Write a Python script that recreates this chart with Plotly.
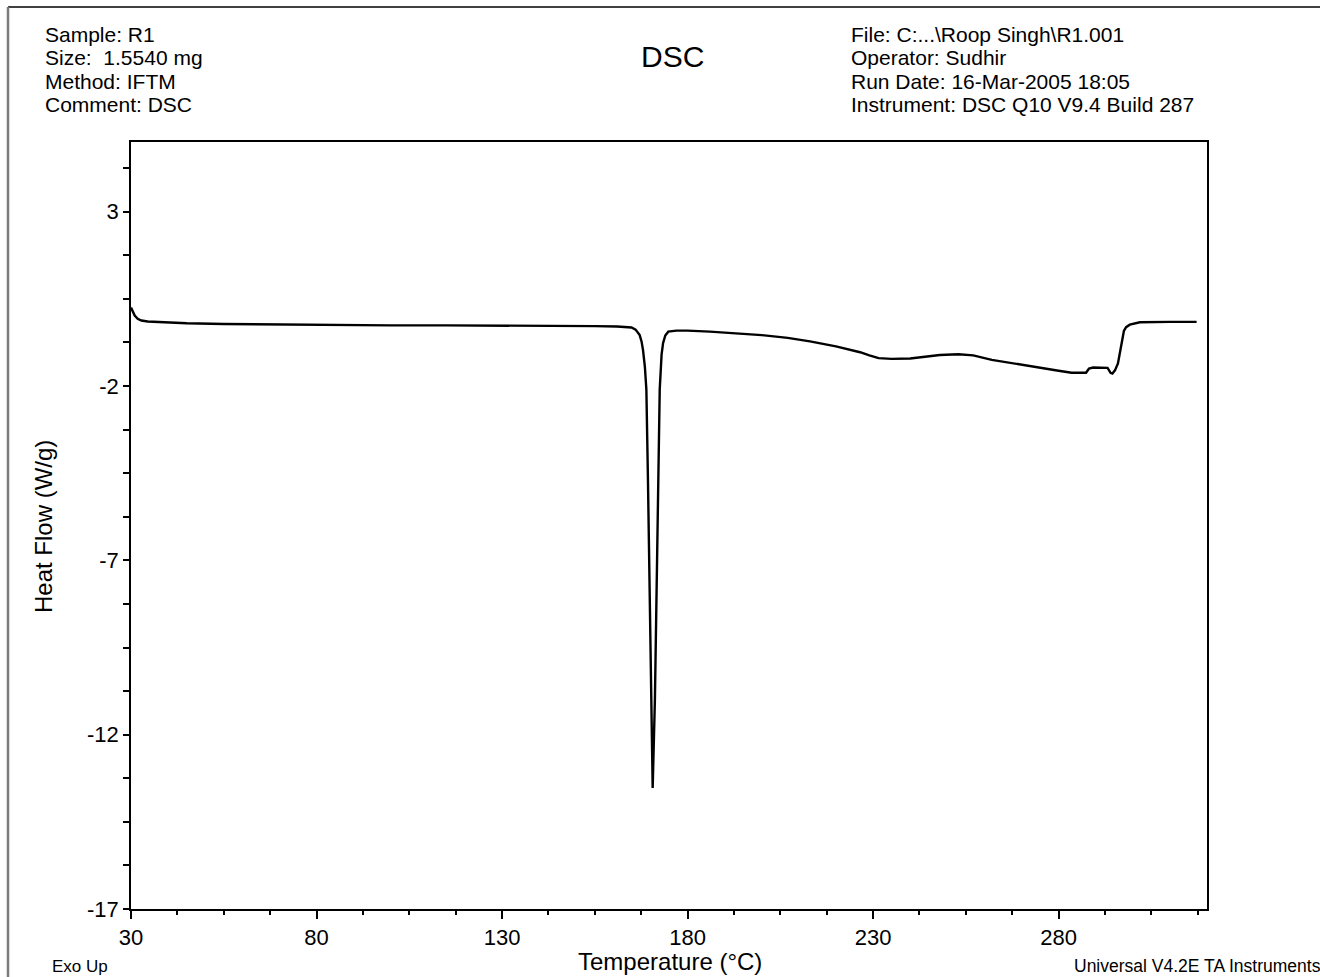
import plotly.graph_objects as go

# DSC scan of sample R1: temperature (°C) vs heat flow (W/g)
temperature = [
    30.0, 30.5, 31.0, 31.8, 32.8, 34.5, 38.0, 45.0, 55.0, 70.0, 85.0, 100.0,
    115.0, 130.0, 145.0, 155.0, 161.0, 164.9, 166.0, 167.1, 167.6, 168.0,
    168.5, 168.9, 169.3, 169.8, 170.1, 170.6, 171.2, 171.6, 172.0, 172.5,
    173.0, 173.4, 174.0, 174.8, 177.0, 180.0, 186.0, 193.0, 200.0, 207.0,
    213.0, 220.0, 226.5, 229.0, 231.5, 235.0, 240.0, 244.0, 248.0, 253.0,
    257.0, 262.0, 268.0, 275.0, 280.0, 283.5, 287.4, 288.2, 289.3, 293.2,
    294.0, 294.5, 295.2, 296.0, 296.5, 297.0, 297.6, 298.2, 299.2, 301.9,
    305.0, 310.0, 317.2,
]
heat_flow = [
    0.25, 0.12, 0.02, -0.07, -0.12, -0.15, -0.17, -0.20, -0.22, -0.24, -0.25, -0.26,
    -0.26, -0.26, -0.27, -0.28, -0.29, -0.32, -0.38, -0.54, -0.72, -0.97,
    -1.45, -2.10, -4.50, -8.10, -11.00, -13.53, -11.00, -8.10, -5.00, -2.10,
    -1.10, -0.77, -0.55, -0.44, -0.41, -0.41, -0.44, -0.48, -0.54, -0.62,
    -0.72, -0.86, -1.03, -1.12, -1.20, -1.22, -1.21, -1.16, -1.11, -1.09,
    -1.12, -1.25, -1.36, -1.48, -1.56, -1.62, -1.62, -1.50, -1.47, -1.48,
    -1.62, -1.64, -1.55, -1.35, -1.05, -0.68, -0.42, -0.31, -0.24, -0.17,
    -0.16, -0.16, -0.16,
]

x_tick_values = [30, 80, 130, 180, 230, 280]
x_tick_labels = ["30", "80", "130", "180", "230", "280"]
y_tick_values = [3, -2, -7, -12, -17]
y_tick_labels = ["3", "-2", "-7", "-12", "-17"]

header_left = ["Sample: R1", "Size:  1.5540 mg", "Method: IFTM", "Comment: DSC"]
header_right = [
    "File: C:...\\Roop Singh\\R1.001",
    "Operator: Sudhir",
    "Run Date: 16-Mar-2005 18:05",
    "Instrument: DSC Q10 V9.4 Build 287",
]

FONT = "Arial, Liberation Sans, sans-serif"

# page and plot-area geometry in pixels
W, H = 1320, 977
L, R, T, B = 131, 1207, 142, 909


def px(x):
    return (x - L) / (R - L)


def py(y):
    return (B - y) / (B - T)


fig = go.Figure(
    go.Scatter(
        x=temperature,
        y=heat_flow,
        mode="lines",
        line=dict(color="black", width=2.4),
        hoverinfo="x+y",
    )
)

annotations = []
line_y = [34, 57.5, 81, 104.5]
for text, yy in zip(header_left, line_y):
    annotations.append(dict(x=px(43), y=py(yy), text=text, xanchor="left",
                            yanchor="middle", font=dict(size=21)))
for text, yy in zip(header_right, line_y):
    annotations.append(dict(x=px(849), y=py(yy), text=text, xanchor="left",
                            yanchor="middle", font=dict(size=21)))

annotations += [
    dict(x=px(672), y=py(56), text="DSC", xanchor="center", yanchor="middle",
         font=dict(size=30)),
    dict(x=px(43), y=py(527), text="Heat Flow (W/g)", textangle=-90,
         xanchor="center", yanchor="middle", font=dict(size=24)),
    dict(x=px(670), y=py(962), text="Temperature (°C)", xanchor="center",
         yanchor="middle", font=dict(size=24)),
    dict(x=px(50), y=py(966), text="Exo Up", xanchor="left", yanchor="middle",
         font=dict(size=17)),
    dict(x=px(1072), y=py(966), text="Universal V4.2E TA Instruments",
         xanchor="left", yanchor="middle", font=dict(size=17.5)),
]
for a in annotations:
    a.update(xref="paper", yref="paper", showarrow=False)

shapes = [
    # page frame: top rule and left rule
    dict(type="line", xref="paper", yref="paper", x0=px(8), x1=px(1320),
         y0=py(7), y1=py(7), line=dict(color="black", width=1.5)),
    dict(type="line", xref="paper", yref="paper", x0=px(8), x1=px(8),
         y0=py(7), y1=py(977), line=dict(color="#7a7a7a", width=2.5)),
]

x_minor = [30 + 12.5 * i for i in range(24) if (12.5 * i) % 50 != 0]
y_minor = [-17 + 1.25 * i for i in range(18) if (1.25 * i) % 5 != 0]

fig.update_layout(
    width=W,
    height=H,
    margin=dict(l=L, r=W - R, t=T, b=H - B, autoexpand=False),
    paper_bgcolor="white",
    plot_bgcolor="white",
    showlegend=False,
    font=dict(family=FONT, color="black"),
    annotations=annotations,
    shapes=shapes,
    xaxis=dict(
        range=[30, 320],
        tickmode="array",
        tickvals=x_tick_values,
        ticktext=x_tick_labels,
        ticks="outside",
        ticklen=8,
        tickwidth=1.5,
        tickcolor="black",
        tickfont=dict(size=22, family=FONT),
        minor=dict(tickmode="array", tickvals=x_minor, ticks="outside",
                   ticklen=4, tickwidth=1.5, tickcolor="black"),
        showline=True,
        linecolor="black",
        linewidth=1.5,
        mirror=True,
        showgrid=False,
        zeroline=False,
    ),
    yaxis=dict(
        range=[-17, 5],
        tickmode="array",
        tickvals=y_tick_values,
        ticktext=y_tick_labels,
        ticks="outside",
        ticklen=6,
        tickwidth=1.5,
        tickcolor="black",
        tickfont=dict(size=22, family=FONT),
        minor=dict(tickmode="array", tickvals=y_minor, ticks="outside",
                   ticklen=6, tickwidth=1.5, tickcolor="black"),
        showline=True,
        linecolor="black",
        linewidth=1.5,
        mirror=True,
        showgrid=False,
        zeroline=False,
    ),
)

fig.write_html("out.html")
